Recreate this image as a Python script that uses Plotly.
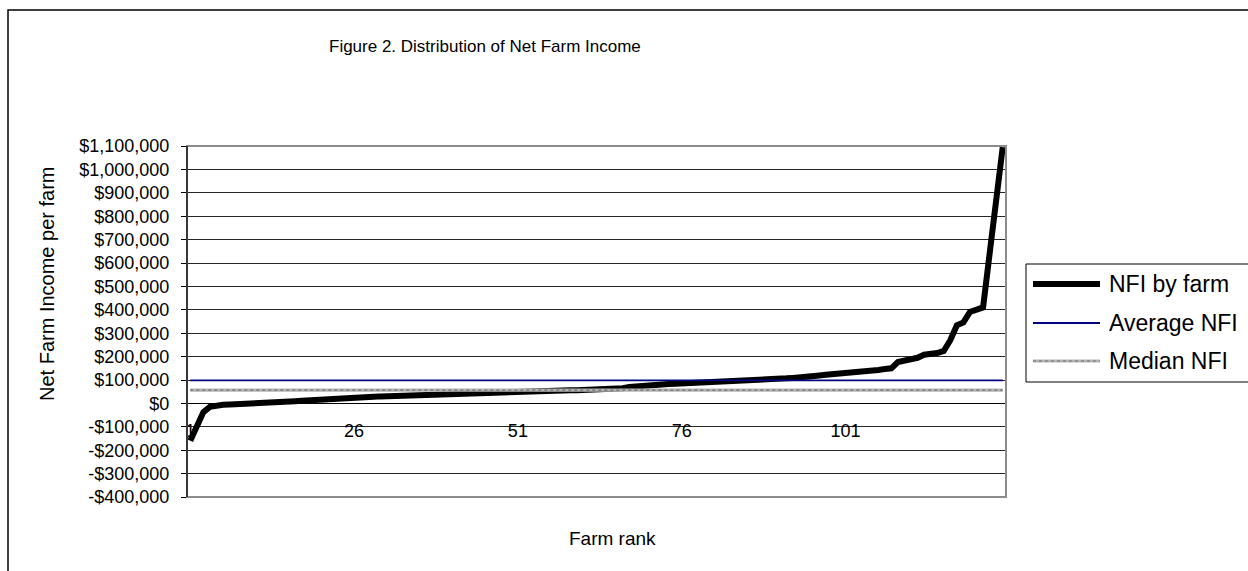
import plotly.graph_objects as go

# ---------------- data ----------------
nfi_by_farm = [
    -160000, -92000, -37000, -15000, -8000, -6000, -5000, -4000, -4000, -3000,
    -3000, 1000, 3000, 4000, 5000, 6000, 9000, 11000, 12000, 13000,
    14000, 15000, 19000, 21000, 22000, 23000, 24000, 25000, 28000, 30000,
    31000, 32000, 33000, 34000, 35000, 38000, 40000, 41000, 42000, 43000,
    44000, 45000, 46000, 47000, 47000, 48000, 48000, 49000, 50000, 50000,
    50000, 51000, 51000, 52000, 52000, 53000, 54000, 55000, 56000, 56000,
    57000, 57000, 58000, 60000, 62000, 63000, 65000, 70000, 73000, 75000,
    77000, 78000, 81000, 83000, 84000, 85000, 86000, 87000, 88000, 89000,
    90000, 91000, 92000, 93000, 94000, 97000, 99000, 100000, 101000, 102000,
    105000, 107000, 109000, 110000, 112000, 116000, 119000, 122000, 124000, 126000,
    129000, 132000, 136000, 140000, 141000, 143000, 147000, 150000, 177000, 181000,
    190000, 195000, 208000, 211000, 215000, 224000, 270000, 334000, 346000, 391000,
    400000, 410000, 640000, 865000, 1095000,
]
farm_rank = list(range(1, len(nfi_by_farm) + 1))
average_nfi = 98000
median_nfi = 57000

y_tick_values = list(range(-400000, 1100001, 100000))
x_tick_values = [1, 26, 51, 76, 101]

series_names = ["NFI by farm", "Average NFI", "Median NFI"]
title_text = "Figure 2. Distribution of Net Farm Income"
y_title = "Net Farm Income per farm"
x_title = "Farm rank"


def money(v):
    return ("-$" if v < 0 else "$") + f"{abs(v):,}"


# ---------------- geometry helpers (pixels -> paper) ----------------
W, H = 1248, 571
PL, PR, PT, PB = 187, 1006, 146, 497
PW, PH = PR - PL, PB - PT


def px(x):
    return (x - PL) / PW


def py(y):
    return (PB - y) / PH


FONT = "Liberation Sans, Arial, sans-serif"
NAVY = "#000080"
NFI_W = 6

fig = go.Figure()
fig.add_trace(go.Scatter(
    x=farm_rank, y=nfi_by_farm, mode="lines", name=series_names[0],
    line=dict(color="black", width=NFI_W), hoverinfo="x+y",
))
fig.add_trace(go.Scatter(
    x=farm_rank, y=[average_nfi] * len(farm_rank), mode="lines", name=series_names[1],
    line=dict(color=NAVY, width=1.8),
))
fig.add_trace(go.Scatter(
    x=farm_rank, y=[median_nfi] * len(farm_rank), mode="lines", name=series_names[2],
    line=dict(color="#b4b4b4", width=3.2), showlegend=False,
))
fig.add_trace(go.Scatter(
    x=farm_rank, y=[median_nfi] * len(farm_rank), mode="lines", name=series_names[2],
    line=dict(color="#6e6e6e", width=1.2, dash="dot"), showlegend=False,
))

y0, y1 = y_tick_values[0], y_tick_values[-1]
zero_pos = (0 - y0) / (y1 - y0)

fig.update_layout(
    width=W, height=H,
    margin=dict(l=PL, r=W - PR, t=PT, b=H - PB, pad=0),
    paper_bgcolor="white", plot_bgcolor="white",
    showlegend=False,
    font=dict(family=FONT, size=18, color="black"),
    xaxis=dict(
        range=[0.5, len(farm_rank) + 0.5],
        anchor="free", position=zero_pos,
        showgrid=False, zeroline=False,
        showline=True, linecolor="black", linewidth=1,
        tickmode="array", tickvals=x_tick_values,
        ticktext=[str(v) for v in x_tick_values],
        ticks="", ticklabelstandoff=11,
        tickfont=dict(family=FONT, size=18, color="black"),
    ),
    yaxis=dict(
        range=[y0, y1],
        showgrid=True, gridcolor="#262626", gridwidth=1,
        zeroline=False,
        showline=True, linecolor="black", linewidth=1.2,
        tickmode="array", tickvals=y_tick_values,
        ticktext=[money(v) for v in y_tick_values],
        ticks="outside", ticklen=5, tickcolor="black", tickwidth=1,
        ticklabelstandoff=8,
        tickfont=dict(family=FONT, size=18, color="black"),
    ),
)

shapes = []
# plot-area border (gray)
shapes.append(dict(type="rect", xref="paper", yref="paper", x0=0, x1=1, y0=0, y1=1,
                   line=dict(color="#8c8c8c", width=2), layer="above"))
# y-axis line over border on the left
shapes.append(dict(type="line", xref="paper", yref="paper", x0=0, x1=0, y0=0, y1=1,
                   line=dict(color="black", width=1.2), layer="above"))
# chart-area outer border
shapes.append(dict(type="rect", xref="paper", yref="paper",
                   x0=px(8), x1=px(1262), y0=py(590), y1=py(10),
                   line=dict(color="black", width=1.5)))
# legend box
shapes.append(dict(type="rect", xref="paper", yref="paper",
                   x0=px(1026), x1=px(1262), y0=py(382), y1=py(264),
                   line=dict(color="black", width=1), fillcolor="white"))

legend_rows = [284, 323, 361]
s_x0, s_x1, t_x = px(1033), px(1100), px(1107)
shapes.append(dict(type="line", xref="paper", yref="paper", x0=s_x0, x1=s_x1,
                   y0=py(legend_rows[0]), y1=py(legend_rows[0]),
                   line=dict(color="black", width=NFI_W)))
shapes.append(dict(type="line", xref="paper", yref="paper", x0=s_x0, x1=s_x1,
                   y0=py(legend_rows[1]), y1=py(legend_rows[1]),
                   line=dict(color=NAVY, width=1.8)))
shapes.append(dict(type="line", xref="paper", yref="paper", x0=s_x0, x1=s_x1,
                   y0=py(legend_rows[2]), y1=py(legend_rows[2]),
                   line=dict(color="#b4b4b4", width=3.2)))
shapes.append(dict(type="line", xref="paper", yref="paper", x0=s_x0, x1=s_x1,
                   y0=py(legend_rows[2]), y1=py(legend_rows[2]),
                   line=dict(color="#6e6e6e", width=1.2, dash="dot")))
fig.update_layout(shapes=shapes)

annotations = [
    dict(text=title_text, x=px(485), y=py(47), xref="paper", yref="paper",
         showarrow=False, xanchor="center", yanchor="middle",
         font=dict(family=FONT, size=17, color="black")),
    dict(text=y_title, x=px(47), y=py(284), xref="paper", yref="paper",
         showarrow=False, xanchor="center", yanchor="middle", textangle=-90,
         font=dict(family=FONT, size=20, color="black")),
    dict(text=x_title, x=px(612), y=py(538), xref="paper", yref="paper",
         showarrow=False, xanchor="center", yanchor="middle",
         font=dict(family=FONT, size=19, color="black")),
]
for name, row in zip(series_names, legend_rows):
    annotations.append(dict(text=name, x=t_x, y=py(row), xref="paper", yref="paper",
                            showarrow=False, xanchor="left", yanchor="middle",
                            font=dict(family=FONT, size=23, color="black")))
fig.update_layout(annotations=annotations)

fig.write_html("out.html")
